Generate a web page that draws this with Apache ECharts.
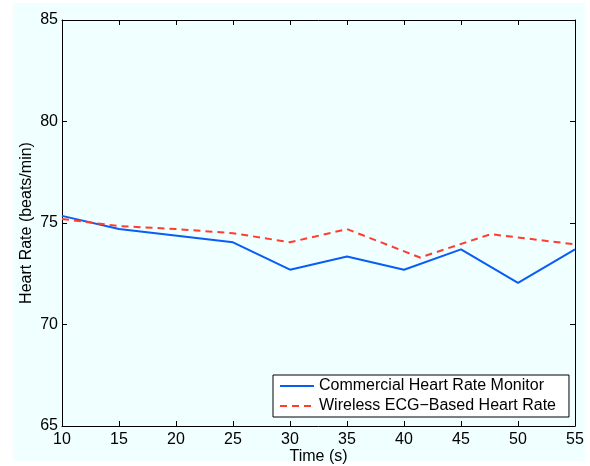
<!DOCTYPE html>
<html>
<head>
<meta charset="utf-8">
<script src="https://cdn.jsdelivr.net/npm/echarts@6/dist/echarts.min.js"></script>
<style>
  body { margin: 0; background: #ffffff; }
  #bg { position: absolute; left: 13px; top: 3px; width: 572px; height: 458px; background: #f0ffff; }
  #main { position: absolute; left: 0; top: 0; width: 590px; height: 466px; }
</style>
</head>
<body>
<div id="bg"></div>
<div id="main"></div>
<script>
// time (s) and heart rate (beats/min)
const commercialTime = [10, 15, 25, 30, 35, 40, 45, 50, 55];
const commercialRate = [75.35, 74.7, 74.05, 72.7, 73.35, 72.7, 73.7, 72.05, 73.7];
const ecgTime = [10, 15, 20, 25, 30, 35, 41.4, 47.6, 55];
const ecgRate = [75.2, 74.85, 74.7, 74.5, 74.05, 74.7, 73.3, 74.45, 73.95];

const font = 'Liberation Sans, Arial, sans-serif';
const pair = (xs, ys) => xs.map((x, i) => [x, ys[i]]);

const chart = echarts.init(document.getElementById('main'));

const boxAxis = {
  axisLine: { show: true, lineStyle: { color: '#000', width: 1 } },
  axisTick: { show: true, inside: true, length: 5, lineStyle: { color: '#000' } },
  splitLine: { show: false }
};

chart.setOption({
  backgroundColor: 'transparent',
  animation: false,
  textStyle: { fontFamily: font },
  grid: { left: 62, top: 20, right: 15, bottom: 40, show: false, containLabel: false, outerBoundsMode: 'none' },
  xAxis: [
    Object.assign({
      type: 'value', min: 10, max: 55, interval: 5,
      name: 'Time (s)', nameLocation: 'middle', nameGap: 23, nameMoveOverlap: false,
      nameTextStyle: { fontSize: 16, color: '#000', fontFamily: font },
      axisLabel: { fontSize: 16, color: '#000', margin: 6, fontFamily: font }
    }, boxAxis),
    Object.assign({
      type: 'value', min: 10, max: 55, interval: 5, position: 'top',
      axisLabel: { show: false }
    }, boxAxis)
  ],
  yAxis: [
    Object.assign({
      type: 'value', min: 65, max: 85, interval: 5,
      name: 'Heart Rate (beats/min)', nameLocation: 'middle', nameGap: 27, nameMoveOverlap: false,
      nameTextStyle: { fontSize: 16, color: '#000', fontFamily: font },
      axisLabel: { fontSize: 16, color: '#000', margin: 4, fontFamily: font }
    }, boxAxis),
    Object.assign({
      type: 'value', min: 65, max: 85, interval: 5, position: 'right',
      axisLabel: { show: false }
    }, boxAxis)
  ],
  legend: {
    orient: 'vertical',
    left: 273, top: 375, width: 296,
    padding: [3, 13, 3, 6],
    itemGap: 4,
    itemWidth: 34, itemHeight: 2,
    backgroundColor: '#ffffff',
    borderColor: '#000', borderWidth: 1, borderRadius: 0,
    textStyle: { fontSize: 16, color: '#000', fontFamily: font },
    data: ['Commercial Heart Rate Monitor', 'Wireless ECG\u2212Based Heart Rate']
  },
  series: [
    {
      name: 'Commercial Heart Rate Monitor',
      type: 'line',
      data: pair(commercialTime, commercialRate),
      symbol: 'none',
      legendIcon: 'rect',
      lineStyle: { color: '#0a5cf7', width: 2 },
      itemStyle: { color: '#0a5cf7' }
    },
    {
      name: 'Wireless ECG\u2212Based Heart Rate',
      type: 'line',
      data: pair(ecgTime, ecgRate),
      symbol: 'none',
      legendIcon: 'path://M0,0h8v2h-8z M13,0h8v2h-8z M26,0h8v2h-8z',
      lineStyle: { color: '#ff3c2e', width: 2, type: [7, 5] },
      itemStyle: { color: '#ff3c2e' }
    }
  ]
});
</script>
</body>
</html>
